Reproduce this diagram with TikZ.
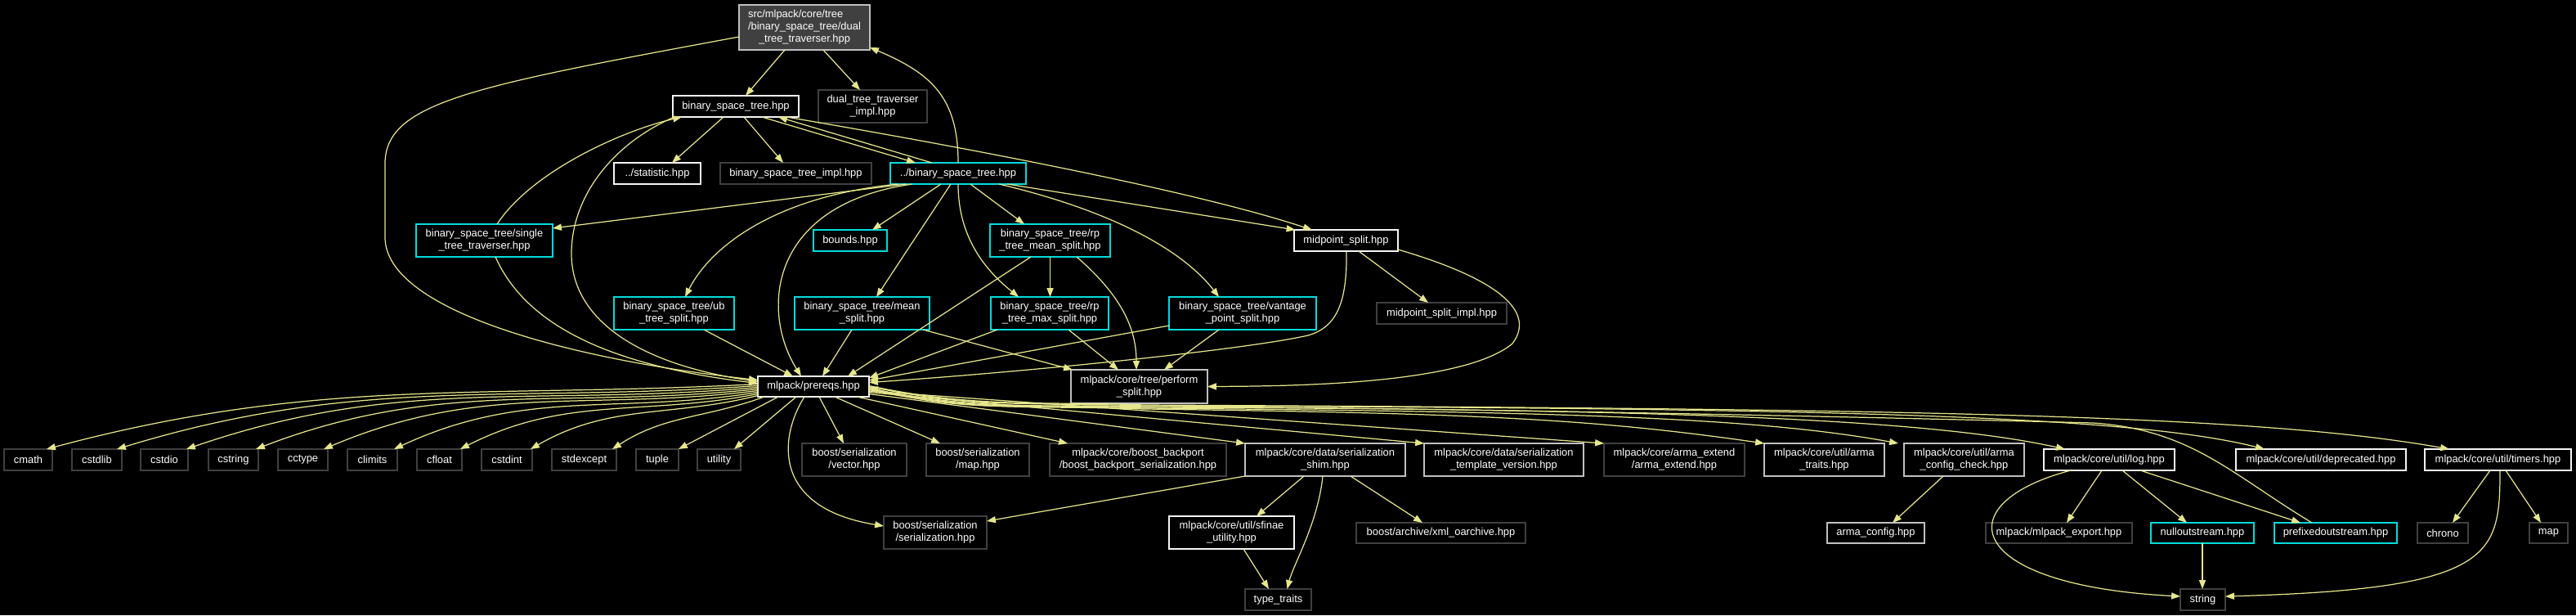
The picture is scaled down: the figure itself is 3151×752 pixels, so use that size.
\documentclass[tikz,border=0pt]{standalone}
\usepackage{fontspec}
\setmainfont{Liberation Sans}
\usetikzlibrary{arrows.meta,calc}
\definecolor{edgec}{RGB}{230,230,140}
\definecolor{cyanb}{RGB}{0,220,220}
\definecolor{grayb}{RGB}{64,64,64}
\definecolor{lgrayb}{RGB}{192,192,192}
\definecolor{whiteb}{RGB}{245,245,245}
\definecolor{rootfill}{RGB}{64,64,64}
\newcommand\nodefont{\fontsize{7.35pt}{8.4pt}\selectfont}
\begin{document}
\begin{tikzpicture}[x=0.02cm,y=-0.02cm,
  nb/.style={draw, line width=0.65pt, inner sep=0pt, text=white, align=center, font=\nodefont},
  wb/.style={nb, draw=whiteb},
  gb/.style={nb, draw=grayb},
  lb/.style={nb, draw=lgrayb},
  cb/.style={nb, draw=cyanb},
  sz/.style 2 args={minimum width=#1*0.02cm, minimum height=#2*0.02cm},
  inc/.style={draw=edgec, line width=0.7pt, -{Triangle[length=6.2pt,width=4.6pt]}}]
\fill[black] (0,0) rectangle (3151,752);
\useasboundingbox (0,0) rectangle (3151,752);
% ---- nodes
\node[nb, draw=lgrayb, fill=rootfill, sz={160}{55}] (root) at (984,33.5) {\begin{tabular}{@{}l@{}}src/mlpack/core/tree\\/binary\_space\_tree/dual\\\multicolumn{1}{@{}c@{}}{\_tree\_traverser.hpp}\end{tabular}};
\node[wb, sz={154}{26}] (bst) at (900,130) {binary\_space\_tree.hpp};
\node[gb, sz={133}{40}] (dtti) at (1067.5,130) {dual\_tree\_traverser\\\_impl.hpp};
\node[wb, sz={106}{26}] (stat) at (804,212) {../statistic.hpp};
\node[gb, sz={185}{26}] (bsti) at (973.5,212) {binary\_space\_tree\_impl.hpp};
\node[cb, sz={166}{26}] (pbst) at (1172,212) {../binary\_space\_tree.hpp};
\node[cb, sz={167}{40}] (stt) at (592.5,294) {binary\_space\_tree/single\\\_tree\_traverser.hpp};
\node[cb, sz={90}{26}] (bounds) at (1040,294) {bounds.hpp};
\node[cb, sz={147}{40}] (rpmean) at (1284.5,294) {binary\_space\_tree/rp\\\_tree\_mean\_split.hpp};
\node[wb, sz={127}{26}] (mid) at (1646.5,294) {midpoint\_split.hpp};
\node[cb, sz={147}{40}] (ub) at (824.5,383) {binary\_space\_tree/ub\\\_tree\_split.hpp};
\node[cb, sz={165}{40}] (mean) at (1054.5,383) {binary\_space\_tree/mean\\\_split.hpp};
\node[cb, sz={144}{40}] (rpmax) at (1284,383) {binary\_space\_tree/rp\\\_tree\_max\_split.hpp};
\node[cb, sz={180}{40}] (vant) at (1520,383) {binary\_space\_tree/vantage\\\_point\_split.hpp};
\node[gb, sz={159}{26}] (midimpl) at (1763.5,383) {midpoint\_split\_impl.hpp};
\node[wb, sz={136}{25}] (prq) at (995,472.5) {mlpack/prereqs.hpp};
\node[lb, sz={167}{41}] (perf) at (1393.5,472.5) {mlpack/core/tree/perform\\\_split.hpp};
% bottom row
\node[gb, sz={59}{26}] (cmath) at (34.5,562) {cmath};
\node[gb, sz={61}{26}] (cstdlib) at (118.5,562) {cstdlib};
\node[gb, sz={58}{26}] (cstdio) at (201,562) {cstdio};
\node[gb, sz={61}{26}] (cstring) at (285.5,562) {cstring};
\node[gb, sz={61}{26}] (cctype) at (370.5,562) {cctype};
\node[gb, sz={61}{26}] (climits) at (455.5,562) {climits};
\node[gb, sz={55}{26}] (cfloat) at (537.5,562) {cfloat};
\node[gb, sz={62}{26}] (cstdint) at (620,562) {cstdint};
\node[gb, sz={79}{26}] (stdexc) at (714.5,562) {stdexcept};
\node[gb, sz={52}{26}] (tuple) at (804,562) {tuple};
\node[gb, sz={53}{26}] (utility) at (879.5,562) {utility};
\node[gb, sz={128}{40}] (svec) at (1045,562) {boost/serialization\\/vector.hpp};
\node[gb, sz={126}{40}] (smap) at (1196,562) {boost/serialization\\/map.hpp};
\node[gb, sz={216}{40}] (bkp) at (1392,562) {mlpack/core/boost\_backport\\/boost\_backport\_serialization.hpp};
\node[lb, sz={196}{40}] (shim) at (1621,562) {mlpack/core/data/serialization\\\_shim.hpp};
\node[lb, sz={195}{40}] (tver) at (1839.5,562) {mlpack/core/data/serialization\\\_template\_version.hpp};
\node[gb, sz={172}{40}] (aext) at (2048,562) {mlpack/core/arma\_extend\\/arma\_extend.hpp};
\node[lb, sz={147}{40}] (atr) at (2231.5,562) {mlpack/core/util/arma\\\_traits.hpp};
\node[lb, sz={147}{40}] (achk) at (2402.5,562) {mlpack/core/util/arma\\\_config\_check.hpp};
\node[wb, sz={160}{26}] (log) at (2580,562) {mlpack/core/util/log.hpp};
\node[wb, sz={208}{26}] (depr) at (2839,562) {mlpack/core/util/deprecated.hpp};
\node[wb, sz={179}{26}] (tmr) at (3055.5,562) {mlpack/core/util/timers.hpp};
% third row
\node[gb, sz={126}{40}] (ser) at (1144,651) {boost/serialization\\/serialization.hpp};
\node[wb, sz={153}{40}] (sfinae) at (1506.5,651) {mlpack/core/util/sfinae\\\_utility.hpp};
\node[gb, sz={207}{25}] (xml) at (1762.5,651.5) {boost/archive/xml\_oarchive.hpp};
\node[lb, sz={119}{25}] (aconf) at (2294.5,651.5) {arma\_config.hpp};
\node[gb, sz={179}{25}] (mexp) at (2518.5,651.5) {mlpack/mlpack\_export.hpp};
\node[cb, sz={126}{25}] (nullo) at (2694,651.5) {nulloutstream.hpp};
\node[cb, sz={150}{25}] (prefo) at (2857,651.5) {prefixedoutstream.hpp};
\node[gb, sz={62}{25}] (chrono) at (2988,651.5) {chrono};
\node[gb, sz={47}{25}] (map) at (3117.5,651.5) {map};
% fourth row
\node[gb, sz={81}{26}] (ttr) at (1563.5,733) {type\_traits};
\node[gb, sz={55}{26}] (str) at (2694.5,733) {string};
% ---- edges, upper part
\draw[inc] ($(root)+(-24,27.5)$) -- ($(bst)+(12,-13)$);
\draw[inc] ($(root)+(23,27.5)$) -- ($(dtti)+(-15.5,-20)$);
\draw[inc] ($(root)+(-80,11.5)$) .. controls (580,105) and (471,125) .. (471,200) -- (471,290) .. controls (471,380) and (700,440) .. ($(prq)+(-68,-8)$);
\draw[inc] ($(bst)+(-15,13)$) -- ($(stat)+(18,-13)$);
\draw[inc] ($(bst)+(10,13)$) -- ($(bsti)+(-15.5,-13)$);
\draw[inc] ($(bst)+(32,13)$) -- ($(pbst)+(-52,-13)$);
\draw[inc] ($(pbst)+(-32,-13)$) -- ($(bst)+(52,13)$);
\draw[inc] ($(bst)+(62,13)$) .. controls (1150,175) and (1450,230) .. ($(mid)+(-41.5,-13)$);
\draw[inc] ($(pbst)+(60,13)$) -- ($(mid)+(-62,-13)$);
\draw[inc] ($(stt)+(15.5,-20)$) .. controls (650,210) and (760,160) .. ($(bst)+(-66,13)$);
\draw[inc] ($(bst)+(-75,13)$) .. controls (750,175) and (699,240) .. (699,310) .. controls (699,390) and (780,445) .. ($(prq)+(-68,-6)$);
\draw[inc] ($(stt)+(13.5,20)$) .. controls (640,390) and (730,445) .. ($(prq)+(-68,-4)$);
\draw[inc] ($(pbst)+(-64,13)$) -- ($(stt)+(83.5,-15)$);
\draw[inc] ($(pbst)+(-74,13)$) .. controls (950,240) and (870,300) .. ($(ub)+(13.5,-20)$);
\draw[inc] ($(pbst)+(-56,13)$) .. controls (940,250) and (930,380) .. ($(prq)+(-15,-12.5)$);
\draw[inc] ($(pbst)+(-21,13)$) -- ($(bounds)+(27,-13)$);
\draw[inc] ($(pbst)+(-9,13)$) -- ($(mean)+(17.5,-20)$);
\draw[inc] ($(pbst)+(0,13)$) .. controls (1172,290) and (1205,330) .. ($(rpmax)+(-38,-20)$);
\draw[inc] ($(pbst)+(15,13)$) -- ($(rpmean)+(-31.5,-20)$);
\draw[inc] ($(pbst)+(50,13)$) .. controls (1370,260) and (1450,310) .. ($(vant)+(-29,-20)$);
\draw[inc] ($(pbst)+(0,-13)$) .. controls (1172,120) and (1140,90) .. ($(root)+(80,24.5)$);
\draw[inc] ($(rpmean)+(0,20)$) -- ($(rpmax)+(0.5,-20)$);
\draw[inc] ($(rpmean)+(-23.5,20)$) -- ($(prq)+(42,-12.5)$);
\draw[inc] ($(rpmean)+(32.5,20)$) .. controls (1370,360) and (1390,400) .. ($(perf)+(-3.5,-20.5)$);
\draw[inc] ($(rpmax)+(-64,20)$) -- ($(prq)+(68,-10.5)$);
\draw[inc] ($(rpmax)+(23,20)$) -- ($(perf)+(-25.5,-20.5)$);
\draw[inc] ($(mean)+(-12.5,20)$) -- ($(prq)+(11,-12.5)$);
\draw[inc] ($(mean)+(74.5,20)$) -- ($(perf)+(-81.5,-20.5)$);
\draw[inc] ($(ub)+(36.5,20)$) -- ($(prq)+(-25,-12.5)$);
\draw[inc] ($(vant)+(-90,15)$) -- ($(prq)+(68,-7.5)$);
\draw[inc] ($(vant)+(-29,20)$) -- ($(perf)+(30.5,-20.5)$);
\draw[inc] ($(mid)+(15.5,13)$) -- ($(midimpl)+(-16.5,-13)$);
\draw[inc] ($(mid)+(0.5,13)$) .. controls (1648,370) and (1635,400) .. (1600,410) .. controls (1520,428) and (1250,455) .. ($(prq)+(68,-5)$);
\draw[inc] ($(mid)+(63.5,11)$) .. controls (1830,340) and (1880,380) .. (1850,420) .. controls (1790,470) and (1580,472) .. ($(perf)+(83.5,0)$);
% ---- edges from prereqs to the left
\draw[inc] ($(prq)+(-68,-3)$) to[out=183,in=15] ($(cmath)+(22.5,-13)$);
\draw[inc] ($(prq)+(-68,-1)$) to[out=184,in=17] ($(cstdlib)+(24.5,-13)$);
\draw[inc] ($(prq)+(-68,1)$) to[out=185,in=19] ($(cstdio)+(27,-13)$);
\draw[inc] ($(prq)+(-68,3)$) to[out=186,in=21] ($(cstring)+(27.5,-13)$);
\draw[inc] ($(prq)+(-68,5)$) to[out=187,in=23] ($(cctype)+(25.5,-13)$);
\draw[inc] ($(prq)+(-68,7)$) to[out=189,in=25] ($(climits)+(26.5,-13)$);
\draw[inc] ($(prq)+(-68,9)$) to[out=191,in=27] ($(cfloat)+(25.5,-13)$);
\draw[inc] ($(prq)+(-68,11)$) to[out=194,in=30] ($(cstdint)+(29,-13)$);
\draw[inc] ($(prq)+(-60,12.5)$) to[out=200,in=33] ($(stdexc)+(34.5,-13)$);
\draw[inc] ($(prq)+(-43,12.5)$) -- ($(tuple)+(26,-13)$);
\draw[inc] ($(prq)+(-21,12.5)$) -- ($(utility)+(18.5,-13)$);
% ---- edges from prereqs to the right
\draw[inc] ($(prq)+(-11,12.5)$) .. controls (955,530) and (940,620) .. ($(ser)+(-63,-8)$);
\draw[inc] ($(prq)+(7,12.5)$) -- ($(svec)+(-13,-20)$);
\draw[inc] ($(prq)+(26,12.5)$) -- ($(smap)+(-46,-20)$);
\draw[inc] ($(prq)+(53,12.5)$) -- ($(bkp)+(-86,-20)$);
\draw[inc] ($(prq)+(68,9)$) -- ($(shim)+(-98,-20)$);
\draw[inc] ($(prq)+(68,7)$) -- ($(tver)+(-97.5,-20)$);
\draw[inc] ($(prq)+(68,5.5)$) -- ($(aext)+(-86,-20)$);
\draw[inc] ($(prq)+(68,4)$) to[out=-12,in=178] (1400,500) .. controls (1800,505) and (1950,512) .. ($(atr)+(-73.5,-20)$);
\draw[inc] ($(prq)+(68,3)$) to[out=-12,in=178] (1400,499) .. controls (1900,503) and (2150,510) .. ($(achk)+(-80.5,-20)$);
\draw[inc] ($(prq)+(68,2)$) to[out=-12,in=178] (1400,498) .. controls (2000,500) and (2350,510) .. ($(log)+(-54,-13)$);
\draw[inc] ($(prq)+(68,0)$) to[out=-12,in=178] (1400,496) .. controls (2200,499) and (2600,506) .. ($(depr)+(-69,-13)$);
\draw[inc] ($(prq)+(68,-1)$) to[out=-12,in=178] (1400,495) .. controls (2300,500) and (2750,505) .. ($(tmr)+(-59.5,-13)$);
\draw[inc] ($(prefo)+(-29,-12.5)$) .. controls (2730,580) and (2680,525) .. (2560,517) .. controls (2100,505) and (1600,497) .. (1400,497) to[out=178,in=-15] ($(prq)+(68,1)$);
% ---- lower edges
\draw[inc] ($(shim)+(-98,20)$) -- ($(ser)+(63,-14)$);
\draw[inc] ($(shim)+(-26,20)$) -- ($(sfinae)+(30.5,-20)$);
\draw[inc] ($(shim)+(-3,20)$) .. controls (1612,640) and (1582,690) .. ($(ttr)+(11,-13)$);
\draw[inc] ($(shim)+(31,20)$) -- ($(xml)+(-22.5,-12.5)$);
\draw[inc] ($(sfinae)+(14.5,20)$) -- ($(ttr)+(-11.5,-13)$);
\draw[inc] ($(achk)+(-25.5,20)$) -- ($(aconf)+(20.5,-12.5)$);
\draw[inc] ($(log)+(-9,13)$) -- ($(mexp)+(9.5,-12.5)$);
\draw[inc] ($(log)+(16,13)$) -- ($(nullo)+(-19,-12.5)$);
\draw[inc] ($(log)+(38,13)$) -- ($(prefo)+(-43,-12.5)$);
\draw[inc] ($(log)+(-47,13)$) .. controls (2380,615) and (2400,715) .. ($(str)+(-27.5,-4)$);
\draw[inc] ($(nullo)+(0,12.5)$) -- ($(str)+(-0.5,-13)$);
\draw[inc] ($(tmr)+(-9.5,13)$) -- ($(chrono)+(12,-12.5)$);
\draw[inc] ($(tmr)+(9.5,13)$) -- ($(map)+(-9.5,-12.5)$);
\draw[inc] ($(tmr)+(2.5,13)$) .. controls (3058,680) and (3050,720) .. ($(str)+(27.5,-4)$);
\end{tikzpicture}
\end{document}
